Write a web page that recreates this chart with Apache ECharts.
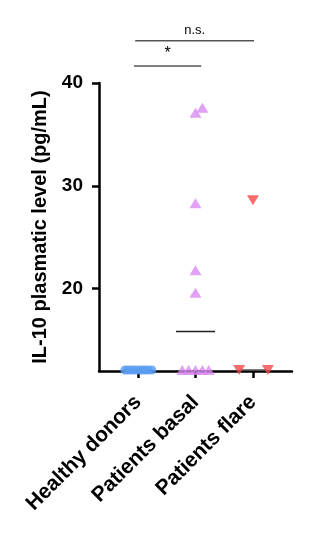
<!DOCTYPE html>
<html><head><meta charset="utf-8">
<script src="https://cdn.jsdelivr.net/npm/echarts@6/dist/echarts.min.js"></script>
<style>html,body{margin:0;padding:0;background:#fff}#c{width:329px;height:541px}</style>
</head><body><div id="c"></div>
<script>
const categories = ['Healthy donors', 'Patients basal', 'Patients flare'];
const yTicks = [20, 30, 40];
const healthyValues = [12.1, 12.1, 12.1, 12.1, 12.1, 12.1, 12.1, 12.1, 12.1, 12.1];
const healthyJitter = [-0.23, -0.18, -0.13, -0.08, -0.03, 0.03, 0.08, 0.13, 0.18, 0.24];
const basalValues = [12.1, 12.1, 12.1, 12.1, 12.1, 19.6, 21.8, 28.3, 37.1, 37.6];
const basalJitter = [-0.23, -0.12, 0, 0.12, 0.23, 0, 0, 0, 0, 0.12];
const flareValues = [12.1, 12.1, 28.6];
const flareJitter = [-0.24, 0.26, 0];
const comparisons = [
  { from: 0, to: 1, label: '*' },
  { from: 0, to: 2, label: 'n.s.' }
];

function median(a) {
  const s = a.slice().sort((x, y) => x - y);
  const n = s.length;
  return n % 2 ? s[(n - 1) / 2] : (s[n / 2 - 1] + s[n / 2]) / 2;
}
function pts(idx, vals, jit) { return vals.map((v, i) => [idx + jit[i], v]); }
function medLine(idx, vals, hw, color) {
  const m = median(vals);
  return {
    type: 'line', data: [[idx - hw, m], [idx + hw, m]], symbol: 'none', silent: true,
    lineStyle: { color: color, width: 1.5 }, z: 1, clip: false, animation: false
  };
}

const FONT = '"Liberation Sans", Arial, Helvetica, sans-serif';
const chart = echarts.init(document.getElementById('c'));
chart.setOption({
  animation: false,
  backgroundColor: '#fff',
  grid: { left: 99, right: 37, top: 83, bottom: 170 },
  xAxis: {
    type: 'value', min: -0.68, max: 2.68,
    splitLine: { show: false },
    axisLine: { show: true, onZero: false, lineStyle: { color: '#000', width: 2.5 } },
    axisTick: { show: true, customValues: [0, 1, 2], length: 7, lineStyle: { color: '#000', width: 2.5 } },
    axisLabel: {
      customValues: [0, 1, 2], formatter: v => categories[Math.round(v)],
      rotate: 45, margin: 28, color: '#000', fontWeight: 'bold', fontSize: 21, fontFamily: FONT
    }
  },
  yAxis: {
    type: 'value', min: 12, max: 40,
    splitLine: { show: false },
    axisLine: { show: true, onZero: false, lineStyle: { color: '#000', width: 2.5 } },
    axisTick: { show: true, customValues: yTicks, length: 7, lineStyle: { color: '#000', width: 2.5 } },
    axisLabel: { customValues: yTicks, margin: 16, color: '#000', fontWeight: 'bold', fontSize: 19, fontFamily: FONT },
    name: 'IL-10 plasmatic level (pg/mL)', nameLocation: 'middle', nameGap: 46,
    nameTextStyle: { color: '#000', fontWeight: 'bold', fontSize: 20, fontFamily: FONT }
  },
  series: [
    medLine(0, healthyValues, 0.25, '#333'),
    medLine(1, basalValues, 0.34, '#222'),
    medLine(2, flareValues, 0.23, '#555'),
    { type: 'scatter', data: pts(0, healthyValues, healthyJitter), symbol: 'circle', symbolSize: 9,
      itemStyle: { color: '#5b9ef2' }, clip: false, z: 3 },
    { type: 'scatter', data: pts(1, basalValues, basalJitter), symbol: 'triangle', symbolSize: [12, 10],
      itemStyle: { color: '#d98af2' }, clip: false, z: 3 },
    { type: 'scatter', data: pts(2, flareValues, flareJitter), symbol: 'triangle', symbolRotate: 180, symbolSize: [12, 10],
      itemStyle: { color: '#f24848' }, clip: false, z: 3 }
  ]
});

// significance brackets
const bracketLevels = [41.65, 44.1];
const bracketSpan = [[-0.07, 0.1], [-0.05, 0.02]];
const g = [];
comparisons.forEach((c, i) => {
  const p1 = chart.convertToPixel({ gridIndex: 0 }, [c.from + bracketSpan[i][0], bracketLevels[i]]);
  const p2 = chart.convertToPixel({ gridIndex: 0 }, [c.to + bracketSpan[i][1], bracketLevels[i]]);
  g.push({ type: 'line', shape: { x1: p1[0], y1: p1[1], x2: p2[0], y2: p2[1] }, style: { stroke: '#000', lineWidth: 1 } });
  g.push({ type: 'text', x: (p1[0] + p2[0]) / 2, y: p1[1] - 4,
    style: { text: c.label, fill: '#000', font: (c.label === '*' ? '16px ' : '13px ') + FONT, textAlign: 'center', textVerticalAlign: 'bottom' } });
});
chart.setOption({ graphic: g });
</script></body></html>
